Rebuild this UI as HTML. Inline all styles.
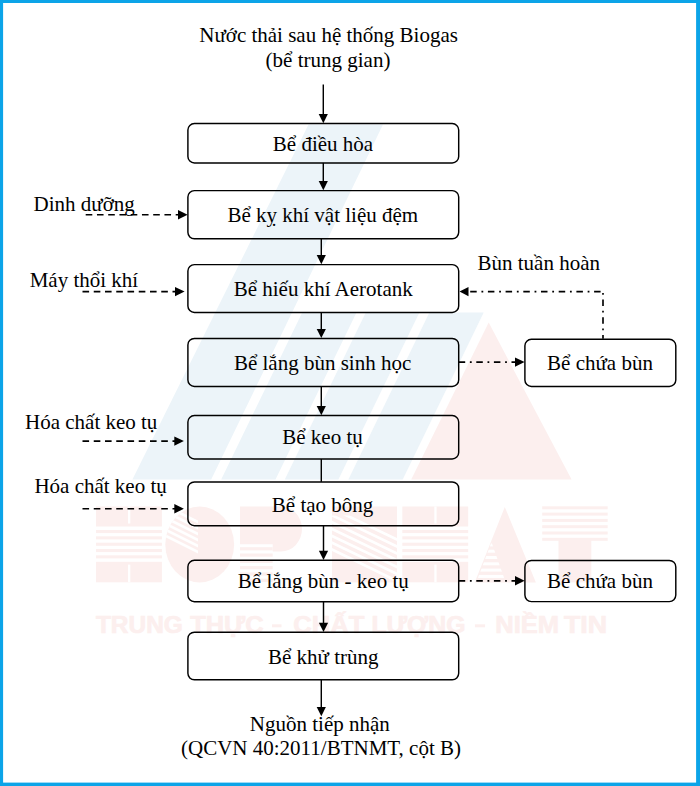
<!DOCTYPE html>
<html><head><meta charset="utf-8"><title>So do cong nghe</title>
<style>html,body{margin:0;padding:0;background:#fff}body{width:700px;height:786px;overflow:hidden}svg{display:block}text{font-family:"Liberation Serif",serif;font-size:21px;fill:#000}.wm{font-family:"Liberation Sans",sans-serif;font-weight:bold}</style>
</head><body>
<svg width="700" height="786" viewBox="0 0 700 786">
<rect x="0" y="0" width="700" height="786" fill="#0ca4e8"/>
<rect x="3.1" y="3" width="693" height="779.6" fill="#fff"/>
<g fill="#ecf4f9">
<polygon points="308.5,124.6 383,124.6 211.2,479.5 132.4,479.5"/>
<polygon points="302.2,312.5 356.5,312.5 275.5,479.5 221.2,479.5"/>
<polygon points="365.8,312.5 419.4,312.5 338.4,479.5 284.8,479.5"/>
<polygon points="429.4,312.5 483.7,312.5 402.7,479.5 348.4,479.5"/>
</g>
<polygon points="488.7,322.6 571.6,479.5 411.2,479.5" fill="#fcefee"/>
<defs>
<clipPath id="cO"><ellipse cx="199.7" cy="544.5" rx="34.4" ry="37.9"/></clipPath>
<clipPath id="cN"><rect x="332" y="515.5" width="65" height="66.9"/></clipPath>
<clipPath id="cA"><polygon points="491.5,542.3 504.5,579 477.5,579"/></clipPath>
</defs>
<g fill="#fcefee">
<rect x="96" y="506.5" width="65.9" height="20"/><rect x="96" y="530" width="65.9" height="3.1"/><rect x="96" y="536.3" width="65.9" height="3.1"/><rect x="96" y="542.7" width="65.9" height="3.1"/><rect x="96" y="549" width="65.9" height="3.1"/><rect x="96" y="555.3" width="65.9" height="3.1"/><rect x="96" y="561.8" width="65.9" height="20.5"/><rect x="128" y="506.5" width="2.3" height="17" fill="#fff"/><rect x="128" y="564.6" width="2.3" height="17.7" fill="#fff"/>
<ellipse cx="199.7" cy="544.5" rx="34.4" ry="37.9"/>
<g clip-path="url(#cO)" fill="#fff">
<polygon points="160,501.6 198,520.6 198,523.6 160,504.6"/>
<polygon points="160,507.6 198,526.6 198,529.6 160,510.6"/>
<polygon points="160,513.5 198,532.5 198,535.5 160,516.5"/>
<polygon points="160,519.5 198,538.5 198,541.5 160,522.5"/>
<polygon points="160,525.4 198,544.4 198,547.4 160,528.4"/>
<polygon points="160,531.4 198,550.4 198,553.4 160,534.4"/>
</g>
<path d="M240,506.5 H281 A21,22.5 0 0 1 281,551.5 H272.7 V544.3 H240 Z"/>
<rect x="240" y="547.2" width="32.7" height="3.2"/>
<rect x="240" y="553.5" width="32.7" height="3.2"/>
<rect x="240" y="559.8" width="32.7" height="3.2"/>
<rect x="240" y="566.1" width="32.7" height="3.2"/>
<rect x="240" y="572.4" width="32.7" height="3.2"/>
<rect x="240" y="578.7" width="32.7" height="3.2"/>
<rect x="332" y="506.5" width="65" height="75.9"/>
<g clip-path="url(#cN)" fill="#fff">
<polygon points="332,506.9 397,538.1 397,541.1 332,509.9"/>
<polygon points="332,513.8 397,545.0 397,548.0 332,516.8"/>
<polygon points="332,520.7 397,551.9 397,554.9 332,523.7"/>
<polygon points="332,527.5 397,558.7 397,561.7 332,530.5"/>
<polygon points="332,534.4 397,565.6 397,568.6 332,537.4"/>
<polygon points="332,541.3 397,572.5 397,575.5 332,544.3"/>
<polygon points="332,548.1 397,579.4 397,582.4 332,551.1"/>
</g>
<rect x="402.3" y="506.5" width="65.9" height="20"/><rect x="402.3" y="530" width="65.9" height="3.1"/><rect x="402.3" y="536.3" width="65.9" height="3.1"/><rect x="402.3" y="542.7" width="65.9" height="3.1"/><rect x="402.3" y="549" width="65.9" height="3.1"/><rect x="402.3" y="555.3" width="65.9" height="3.1"/><rect x="402.3" y="561.8" width="65.9" height="20.5"/><rect x="434.3" y="506.5" width="2.3" height="17" fill="#fff"/><rect x="434.3" y="564.6" width="2.3" height="17.7" fill="#fff"/>
<polygon points="504.8,507 535.9,582.4 474.7,582.4"/>
<g clip-path="url(#cA)" fill="#fff">
<rect x="470" y="543.4" width="40" height="3"/>
<rect x="470" y="549.7" width="40" height="3"/>
<rect x="470" y="556.0" width="40" height="3"/>
<rect x="470" y="562.3" width="40" height="3"/>
<rect x="470" y="568.6" width="40" height="3"/>
<rect x="470" y="574.9" width="40" height="3"/>
</g>
<rect x="542.2" y="506.3" width="65.5" height="3"/>
<rect x="542.2" y="512.6" width="65.5" height="3"/>
<rect x="542.2" y="518.9" width="65.5" height="3"/>
<rect x="542.2" y="525.2" width="65.5" height="3"/>
<rect x="542.2" y="531.5" width="65.5" height="3"/>
<rect x="542.2" y="537.8" width="65.5" height="3"/>
<rect x="558.5" y="538" width="32.8" height="44.4"/>
</g>
<g class="wm" style="font-size:23.9px" fill="#fcefee" stroke="#fcefee" stroke-width="0.7" stroke-linejoin="round">
<text class="wm" x="95.9" y="632.6" style="fill:#fcefee;font-size:23.9px" textLength="87.0" lengthAdjust="spacingAndGlyphs">TRUNG</text>
<text class="wm" x="190.2" y="632.6" style="fill:#fcefee;font-size:23.9px" textLength="73.4" lengthAdjust="spacingAndGlyphs">THỰC</text>
<text class="wm" x="293.2" y="632.6" style="fill:#fcefee;font-size:23.9px" textLength="71.2" lengthAdjust="spacingAndGlyphs">CHẤT</text>
<text class="wm" x="371.4" y="632.6" style="fill:#fcefee;font-size:23.9px" textLength="94.1" lengthAdjust="spacingAndGlyphs">LƯỢNG</text>
<text class="wm" x="495.3" y="632.6" style="fill:#fcefee;font-size:23.9px" textLength="63.8" lengthAdjust="spacingAndGlyphs">NIỀM</text>
<text class="wm" x="563.9" y="632.6" style="fill:#fcefee;font-size:23.9px" textLength="43.2" lengthAdjust="spacingAndGlyphs">TIN</text>
</g>
<rect x="272" y="624.3" width="9.5" height="3" fill="#fcefee"/>
<rect x="474.9" y="624.3" width="10.2" height="3" fill="#fcefee"/>
<g fill="none" stroke="#000" stroke-width="1.45">
<rect x="187.9" y="123.5" width="270.8" height="39.4" rx="6.5" ry="6.5"/>
<rect x="187.9" y="190.6" width="270.8" height="48.2" rx="6.5" ry="6.5"/>
<rect x="187.9" y="264.6" width="270.8" height="47.8" rx="6.5" ry="6.5"/>
<rect x="187.9" y="338.4" width="270.8" height="48.1" rx="6.5" ry="6.5"/>
<rect x="187.9" y="415.5" width="270.8" height="43.5" rx="6.5" ry="6.5"/>
<rect x="187.9" y="481.9" width="270.8" height="43.8" rx="6.5" ry="6.5"/>
<rect x="187.9" y="560.3" width="270.8" height="41.4" rx="6.5" ry="6.5"/>
<rect x="187.9" y="632.2" width="270.8" height="47.6" rx="6.5" ry="6.5"/>
<rect x="524.9" y="339.3" width="150.9" height="47.1" rx="6.5" ry="6.5"/>
<rect x="524.9" y="560.4" width="150.9" height="41.2" rx="6.5" ry="6.5"/>
<line x1="323.3" y1="84.5" x2="323.3" y2="118"/>
<line x1="323.3" y1="162.9" x2="323.3" y2="185"/>
<line x1="321.3" y1="238.8" x2="321.3" y2="259"/>
<line x1="321.3" y1="312.4" x2="321.3" y2="333"/>
<line x1="321.3" y1="386.5" x2="321.3" y2="410"/>
<line x1="321.3" y1="459" x2="321.3" y2="481.9"/>
<line x1="323.5" y1="525.7" x2="323.5" y2="555"/>
<line x1="323.5" y1="601.7" x2="323.5" y2="627"/>
<line x1="321.3" y1="679.8" x2="321.3" y2="711"/>
</g>
<g fill="#000">
<polygon points="318.7,114.0 327.90000000000003,114.0 323.3,123.2"/>
<polygon points="318.7,181.10000000000002 327.90000000000003,181.10000000000002 323.3,190.3"/>
<polygon points="316.7,255.10000000000002 325.90000000000003,255.10000000000002 321.3,264.3"/>
<polygon points="316.7,328.90000000000003 325.90000000000003,328.90000000000003 321.3,338.1"/>
<polygon points="316.7,406.0 325.90000000000003,406.0 321.3,415.2"/>
<polygon points="318.9,550.8 328.1,550.8 323.5,560"/>
<polygon points="318.9,622.8 328.1,622.8 323.5,632"/>
<polygon points="316.7,707.0 325.90000000000003,707.0 321.3,716.2"/>
<polygon points="178.0,210.0 178.0,219.39999999999998 187.6,214.7"/>
<polygon points="175.0,286.90000000000003 175.0,296.3 184.6,291.6"/>
<polygon points="174.3,436.40000000000003 174.3,445.8 183.9,441.1"/>
<polygon points="174.3,504.0 174.3,513.4 183.9,508.7"/>
<polygon points="515.0,357.40000000000003 515.0,366.8 524.6,362.1"/>
<polygon points="515.0,576.0999999999999 515.0,585.5 524.6,580.8"/>
<polygon points="468.5,286.90000000000003 468.5,296.3 459.5,291.6"/>
</g>
<g fill="none" stroke="#000" stroke-width="1.65">
<line x1="85.7" y1="214.7" x2="180" y2="214.7" stroke-dasharray="6.6 4.65"/>
<line x1="82.5" y1="291.6" x2="177" y2="291.6" stroke-dasharray="6.6 4.65"/>
<line x1="82.5" y1="441.1" x2="176" y2="441.1" stroke-dasharray="6.6 4.65"/>
<line x1="82.5" y1="508.7" x2="176" y2="508.7" stroke-dasharray="6.6 4.65"/>
<line x1="458.7" y1="362.1" x2="517" y2="362.1" stroke-dasharray="6.5 4.7 1.8 4.6"/>
<line x1="458.7" y1="580.8" x2="517" y2="580.8" stroke-dasharray="6.5 4.7 1.8 4.6"/>
<path d="M459.5,291.6 H603.8" stroke-dasharray="6.5 4.75 1.8 4.65" stroke-dashoffset="-10.7"/>
<path d="M603,291.6 V338.7" stroke-dasharray="6.5 4.75 1.8 4.65" stroke-dashoffset="-7.9"/>
</g>
<text x="328.6" y="42" text-anchor="middle">Nước thải sau hệ thống Biogas</text>
<text x="328.0" y="67" text-anchor="middle">(bể trung gian)</text>
<text x="323.0" y="151" text-anchor="middle">Bể điều hòa</text>
<text x="322.8" y="222" text-anchor="middle">Bể kỵ khí vật liệu đệm</text>
<text x="323.2" y="296" text-anchor="middle">Bể hiếu khí Aerotank</text>
<text x="322.6" y="370" text-anchor="middle">Bể lắng bùn sinh học</text>
<text x="322.5" y="444" text-anchor="middle">Bể keo tụ</text>
<text x="322.6" y="512" text-anchor="middle">Bể tạo bông</text>
<text x="323.3" y="588" text-anchor="middle">Bể lắng bùn - keo tụ</text>
<text x="323.2" y="664" text-anchor="middle">Bể khử trùng</text>
<text x="319.8" y="731" text-anchor="middle">Nguồn tiếp nhận</text>
<text x="321" y="755" text-anchor="middle">(QCVN 40:2011/BTNMT, cột B)</text>
<text x="33.5" y="211" text-anchor="start">Dinh dưỡng</text>
<text x="29.7" y="287" text-anchor="start">Máy thổi khí</text>
<text x="25.0" y="429" text-anchor="start">Hóa chất keo tụ</text>
<text x="34.4" y="493" text-anchor="start">Hóa chất keo tụ</text>
<text x="477.5" y="270" text-anchor="start">Bùn tuần hoàn</text>
<text x="600" y="370" text-anchor="middle">Bể chứa bùn</text>
<text x="600" y="588" text-anchor="middle">Bể chứa bùn</text>
</svg></body></html>
